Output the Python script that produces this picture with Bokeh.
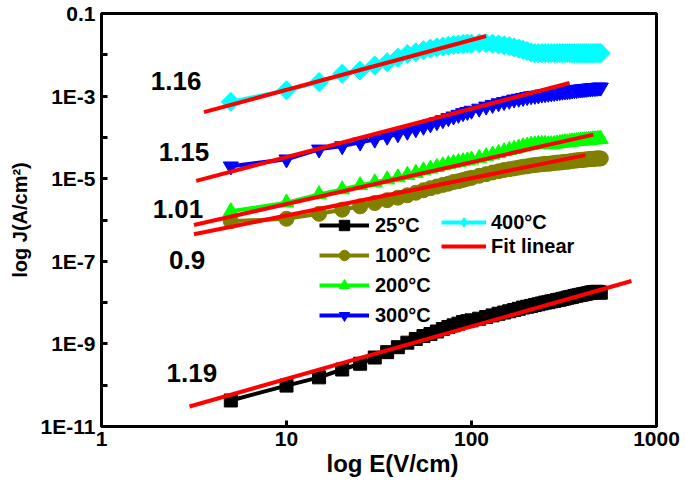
import math
from bokeh.plotting import figure
from bokeh.models import FixedTicker, Legend, LegendItem, Title
from bokeh.core.properties import value
from bokeh.embed import file_html
from bokeh.resources import INLINE

# ---------------- data ----------------
E = [5, 10, 15, 20, 25, 30, 35, 40, 45, 50, 55, 60, 65, 70, 75, 80, 85, 90, 95, 100,
     110, 120, 130, 140, 150, 160, 170, 180, 190, 200, 210, 220, 230, 240, 250, 260, 270, 280, 290, 300,
     310, 320, 330, 340, 350, 360, 370, 380, 390, 400, 410, 420, 430, 440, 450, 460, 470, 480, 490, 500]

# log10 of J (A/cm^2)
logJ_25C = [-10.37, -10.01, -9.81, -9.62, -9.48, -9.33, -9.20, -9.08, -8.97, -8.88,
            -8.81, -8.76, -8.70, -8.64, -8.59, -8.55, -8.51, -8.47, -8.45, -8.43,
            -8.39, -8.35, -8.31, -8.27, -8.24, -8.21, -8.18, -8.15, -8.12, -8.10,
            -8.08, -8.06, -8.04, -8.02, -8.00, -7.99, -7.97, -7.96, -7.94, -7.93,
            -7.91, -7.90, -7.88, -7.87, -7.86, -7.84, -7.83, -7.82, -7.81, -7.80,
            -7.79, -7.78, -7.77, -7.76, -7.75, -7.75, -7.74, -7.74, -7.75, -7.76]

logJ_100C = [-6.03, -5.97, -5.85, -5.75, -5.67, -5.59, -5.52, -5.46, -5.40, -5.34,
             -5.28, -5.23, -5.19, -5.15, -5.12, -5.08, -5.06, -5.03, -5.00, -4.98,
             -4.93, -4.89, -4.85, -4.82, -4.79, -4.77, -4.75, -4.73, -4.71, -4.70,
             -4.68, -4.67, -4.66, -4.65, -4.64, -4.64, -4.63, -4.62, -4.61, -4.61,
             -4.60, -4.59, -4.59, -4.58, -4.57, -4.56, -4.56, -4.55, -4.55, -4.54,
             -4.54, -4.53, -4.53, -4.52, -4.52, -4.52, -4.51, -4.51, -4.51, -4.51]

logJ_200C = [-5.79, -5.58, -5.38, -5.26, -5.16, -5.09, -5.02, -4.97, -4.91, -4.86,
             -4.80, -4.76, -4.72, -4.68, -4.65, -4.62, -4.60, -4.58, -4.56, -4.54,
             -4.50, -4.46, -4.42, -4.38, -4.34, -4.31, -4.28, -4.25, -4.22, -4.20,
             -4.18, -4.17, -4.16, -4.16, -4.16, -4.17, -4.17, -4.16, -4.15, -4.14,
             -4.13, -4.12, -4.12, -4.11, -4.10, -4.10, -4.09, -4.09, -4.08, -4.08,
             -4.07, -4.07, -4.06, -4.06, -4.05, -4.05, -4.05, -4.04, -4.04, -4.04]

logJ_300C = [-4.70, -4.53, -4.29, -4.21, -4.12, -4.05, -3.98, -3.92, -3.86, -3.80,
             -3.74, -3.68, -3.63, -3.58, -3.53, -3.49, -3.45, -3.41, -3.38, -3.35,
             -3.30, -3.25, -3.21, -3.17, -3.14, -3.11, -3.08, -3.06, -3.04, -3.02,
             -3.00, -2.99, -2.98, -2.96, -2.95, -2.94, -2.93, -2.92, -2.91, -2.90,
             -2.89, -2.885, -2.88, -2.87, -2.86, -2.855, -2.85, -2.84, -2.835, -2.83,
             -2.825, -2.82, -2.815, -2.81, -2.805, -2.80, -2.80, -2.795, -2.79, -2.79]

logJ_400C = [-3.14, -2.86, -2.66, -2.46, -2.38, -2.26, -2.18, -2.07, -1.98, -1.94,
             -1.89, -1.85, -1.82, -1.80, -1.78, -1.76, -1.75, -1.74, -1.73, -1.73,
             -1.72, -1.72, -1.73, -1.75, -1.77, -1.79, -1.82, -1.85, -1.88, -1.91,
             -1.94, -1.96, -1.96, -1.96, -1.96, -1.96, -1.96, -1.96, -1.96, -1.96,
             -1.96, -1.96, -1.96, -1.96, -1.96, -1.96, -1.96, -1.96, -1.96, -1.96,
             -1.96, -1.96, -1.96, -1.96, -1.96, -1.96, -1.96, -1.96, -1.96, -1.96]

series_labels = ["25°C", "100°C", "200°C", "300°C", "400°C"]
series_logJ = [logJ_25C, logJ_100C, logJ_200C, logJ_300C, logJ_400C]

# linear fits (log-log), end points, same series order
fit_E_start = [2.99, 3.16, 3.16, 3.25, 3.58]
fit_E_end = [732, 413, 456, 339, 120]
fit_J_start = [3.05e-11, 4.52e-7, 7.59e-7, 8.89e-6, 4.09e-4]
fit_J_end = [3.33e-8, 3.72e-5, 1.17e-4, 2.07e-3, 2.85e-2]
fit_label = "Fit linear"

# slope annotations
slope_text = ["1.16", "1.15", "1.01", "0.9", "1.19"]
slope_E = [2.53, 2.79, 2.59, 2.90, 3.08]
slope_J = [2.31e-3, 4.39e-5, 1.82e-6, 1.06e-7, 1.93e-10]

x_ticks = [1, 10, 100, 1000]
x_tick_labels = ["1", "10", "100", "1000"]
y_ticks = [1e-11, 1e-9, 1e-7, 1e-5, 1e-3, 1e-1]
y_tick_labels = ["1E-11", "1E-9", "1E-7", "1E-5", "1E-3", "0.1"]
y_minor = [1e-10, 1e-8, 1e-6, 1e-4, 1e-2]

x_title = "log E(V/cm)"
y_title = "log J(A/cm²)"

# ---------------- styles ----------------
FONT = "Liberation Sans"
colors = ["#000000", "#808000", "#00FF00", "#0000FF", "#00FFFF"]
markers = ["square", "circle", "triangle", "inverted_triangle", "square"]
msizes = [13, 15, 15, 15, 13.5]
mangles = [0, 0, 0, 0, math.pi / 4]

p = figure(width=684, height=484, x_axis_type="log", y_axis_type="log",
           x_range=(1, 1000), y_range=(1e-11, 0.1),
           output_backend="svg", toolbar_location=None,
           min_border_left=100, min_border_right=28, min_border_top=13, min_border_bottom=58)

p.xgrid.visible = False
p.ygrid.visible = False
p.outline_line_color = "black"
p.outline_line_width = 3
p.outline_line_alpha = 1
p.background_fill_color = "white"
p.border_fill_color = "white"

for ax in (p.xaxis[0], p.yaxis[0]):
    ax.axis_line_width = 3
    ax.major_tick_in = 6
    ax.major_tick_out = 0
    ax.major_tick_line_width = 3
    ax.minor_tick_in = 6
    ax.minor_tick_out = 0
    ax.minor_tick_line_width = 3
    ax.major_label_text_font = FONT
    ax.major_label_text_font_style = "bold"
    ax.major_label_text_font_size = "21px"
    ax.major_label_text_color = "black"

p.xaxis[0].ticker = FixedTicker(ticks=x_ticks, minor_ticks=[])
p.xaxis[0].major_label_overrides = dict(zip(x_ticks, x_tick_labels))
p.xaxis[0].major_label_standoff = 5
p.yaxis[0].ticker = FixedTicker(ticks=y_ticks, minor_ticks=y_minor)
p.yaxis[0].major_label_overrides = dict(zip(y_ticks, y_tick_labels))
p.yaxis[0].major_label_standoff = 6

line_rs = []
scat_rs = []
for i, (lj, c, m, s, a) in enumerate(zip(series_logJ, colors, markers, msizes, mangles)):
    J = [10 ** v for v in lj]
    lr = p.line(E, J, line_color=c, line_width=4)
    if i == 4:
        # diamond glyph hidden under the rotated squares, used as the legend symbol
        leg_diamond = p.scatter(E, J, marker="diamond", size=18, fill_color=c, line_color=c)
    sr = p.scatter(E, J, marker=m, size=s, angle=a, fill_color=c, line_color=c)
    line_rs.append(lr)
    scat_rs.append(sr)

fit_rs = []
for e0, e1, j0, j1 in zip(fit_E_start, fit_E_end, fit_J_start, fit_J_end):
    fit_rs.append(p.line([e0, e1], [j0, j1], line_color="#FF0000", line_width=4))

p.text(x=slope_E, y=slope_J, text=slope_text, text_font=value(FONT), text_font_style="bold",
       text_font_size="26px", text_align="center", text_baseline="middle", text_color="black")


def make_legend(items, loc, gh, sp, gw, so):
    return Legend(items=items, location=loc, orientation="vertical",
                  label_text_font=FONT, label_text_font_style="bold", label_text_font_size="20px",
                  label_text_color="black", border_line_alpha=0, background_fill_alpha=0,
                  padding=0, margin=0, spacing=sp, glyph_width=gw, glyph_height=gh,
                  label_height=gh, label_standoff=so)


items1 = [LegendItem(label=series_labels[i], renderers=[line_rs[i], scat_rs[i]]) for i in range(4)]
items2 = [LegendItem(label=series_labels[4], renderers=[line_rs[4], leg_diamond]),
          LegendItem(label=fit_label, renderers=[fit_rs[0]])]
p.add_layout(make_legend(items1, (218, 98), 26, 4, 50, 6))
p.add_layout(make_legend(items2, (340, 168), 24, 0, 45, 5))

xt = Title(text=x_title, align="left", offset=225, vertical_align="middle", standoff=0,
           text_font=FONT, text_font_style="bold", text_font_size="24px", text_color="black")
p.add_layout(xt, "below")
yt = Title(text=y_title, align="center", offset=-7, vertical_align="bottom", standoff=13,
           text_font=FONT, text_font_style="bold", text_font_size="20px", text_color="black")
p.add_layout(yt, "left")

open("out.html", "w").write(file_html(p, INLINE))
